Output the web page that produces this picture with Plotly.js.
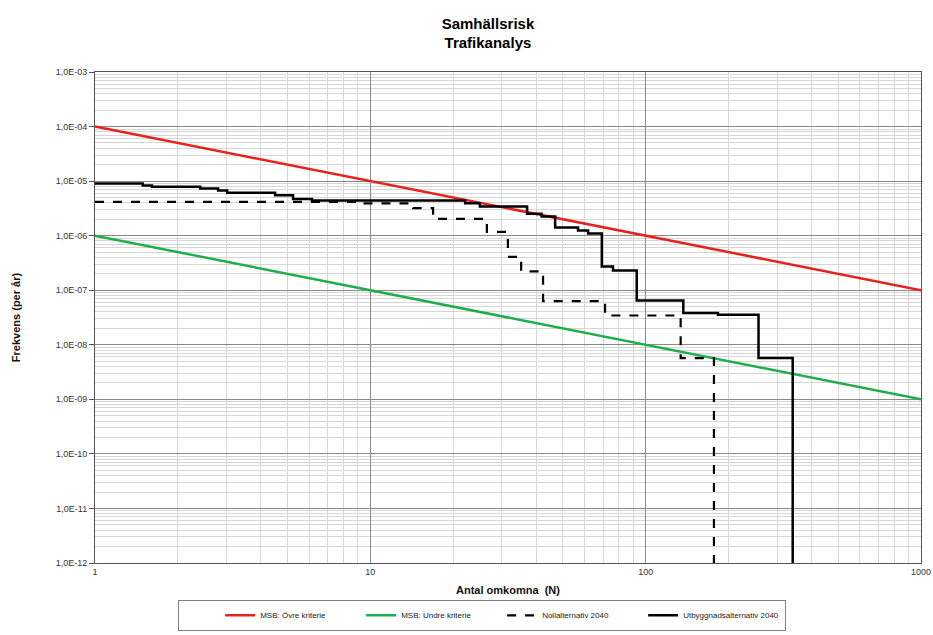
<!DOCTYPE html>
<html>
<head>
<meta charset="utf-8">
<script src="https://cdn.plot.ly/plotly-3.0.1.min.js"></script>
<style>
  html, body { margin: 0; padding: 0; background: #ffffff; }
  #chart { width: 933px; height: 635px; }
</style>
</head>
<body>
<div id="chart"></div>
<script>
// Criterion lines (MSB)
const overX = [1, 1000];
const overY = [1e-4, 1e-7];
const underX = [1, 1000];
const underY = [1e-6, 1e-9];

// Nollalternativ 2040 (step curve: N where level starts, frequency level)
const nollN = [1, 9.2, 14.3, 16.9, 26.5, 31.6, 35.3, 42.4, 71.2, 134, 177];
const nollF = [4.16e-6, 3.9e-6, 3.19e-6, 2.03e-6, 1.17e-6, 4.09e-7, 2.22e-7, 6.3e-8, 3.44e-8, 5.7e-9, 1e-12];

// Utbyggnadsalternativ 2040
const utbN = [1, 1.49, 1.61, 2.41, 2.80, 3.02, 4.51, 5.24, 6.14, 22.1, 25.0, 37.1, 41.9, 46.9, 56.8, 61.8, 69.3, 76.1, 92.8, 137, 183, 257, 342];
const utbF = [9.0e-6, 8.3e-6, 7.9e-6, 7.3e-6, 6.7e-6, 6.15e-6, 5.52e-6, 4.72e-6, 4.4e-6, 3.94e-6, 3.41e-6, 2.51e-6, 2.24e-6, 1.41e-6, 1.25e-6, 1.10e-6, 2.72e-7, 2.30e-7, 6.5e-8, 3.81e-8, 3.54e-8, 5.7e-9, 1e-12];

// Axis ticks
const xTickVals = [1, 10, 100, 1000];
const xTickText = ["1", "10", "100", "1000"];
const yTickVals = [1e-12, 1e-11, 1e-10, 1e-9, 1e-8, 1e-7, 1e-6, 1e-5, 1e-4, 1e-3];
const yTickText = ["1,0E-12", "1,0E-11", "1,0E-10", "1,0E-09", "1,0E-08", "1,0E-07", "1,0E-06", "1,0E-05", "1,0E-04", "1,0E-03"];

const traces = [
  { x: overX, y: overY, mode: "lines", name: "MSB: Övre kriterie",
    line: { color: "#e8211d", width: 2.5 } },
  { x: underX, y: underY, mode: "lines", name: "MSB: Undre kriterie",
    line: { color: "#1fae4b", width: 2.5 } },
  { x: nollN, y: nollF, mode: "lines", name: "Nollalternativ 2040",
    line: { color: "#000000", width: 2.2, dash: "dash", shape: "hv" } },
  { x: utbN, y: utbF, mode: "lines", name: "Utbyggnadsalternativ 2040",
    line: { color: "#000000", width: 2.5, shape: "hv" } }
];

const layout = {
  width: 933, height: 635,
  margin: { l: 95, r: 12, t: 72, b: 72, pad: 0, autoexpand: false },
  paper_bgcolor: "#ffffff", plot_bgcolor: "#ffffff",
  font: { family: "Liberation Sans, Arial, sans-serif", color: "#222" },
  title: {
    text: "<b>Samhällsrisk</b><br><b>Trafikanalys</b>",
    font: { size: 15, color: "#000" },
    xref: "container", x: 0.523, xanchor: "center",
    yref: "container", y: 0.955, yanchor: "middle"
  },
  showlegend: true,
  legend: {
    orientation: "h",
    x: 0.1005, xanchor: "left",
    y: -0.075, yanchor: "top",
    bordercolor: "#808080", borderwidth: 1,
    bgcolor: "#ffffff",
    font: { size: 8, color: "#222" },
    title: { text: "&nbsp;&nbsp;&nbsp;&nbsp;&nbsp;&nbsp;&nbsp;&nbsp;&nbsp;&nbsp;&nbsp;&nbsp;&nbsp;&nbsp;", side: "left", font: { size: 8 } },
    itemwidth: 30,
    entrywidth: 96, entrywidthmode: "pixels"
  },
  xaxis: {
    type: "log", range: [0, 3],
    tickvals: xTickVals, ticktext: xTickText,
    tickfont: { size: 9, color: "#333" },
    showgrid: true, gridcolor: "#8a8a8a", gridwidth: 1,
    minor: { dtick: "D1", showgrid: true, gridcolor: "#d6d6d6", gridwidth: 1, ticks: "" },
    showline: true, linecolor: "#555", linewidth: 1, mirror: true,
    ticks: "", zeroline: false,
    title: { text: "<b>Antal omkomna  (N)</b>", font: { size: 11, color: "#111" }, standoff: 10 }
  },
  yaxis: {
    type: "log", range: [-12, -3],
    tickvals: yTickVals, ticktext: yTickText,
    tickfont: { size: 9, color: "#333" },
    showgrid: true, gridcolor: "#8a8a8a", gridwidth: 1,
    minor: { dtick: "D1", showgrid: true, gridcolor: "#d6d6d6", gridwidth: 1, ticks: "" },
    showline: true, linecolor: "#555", linewidth: 1, mirror: true,
    ticks: "outside", ticklen: 5, tickcolor: "#555",
    zeroline: false,
    title: { text: "<b>Frekvens (per år)</b>", font: { size: 11, color: "#111" }, standoff: 32 }
  }
};

Plotly.newPlot("chart", traces, layout, { displayModeBar: false, staticPlot: true });
</script>
</body>
</html>
